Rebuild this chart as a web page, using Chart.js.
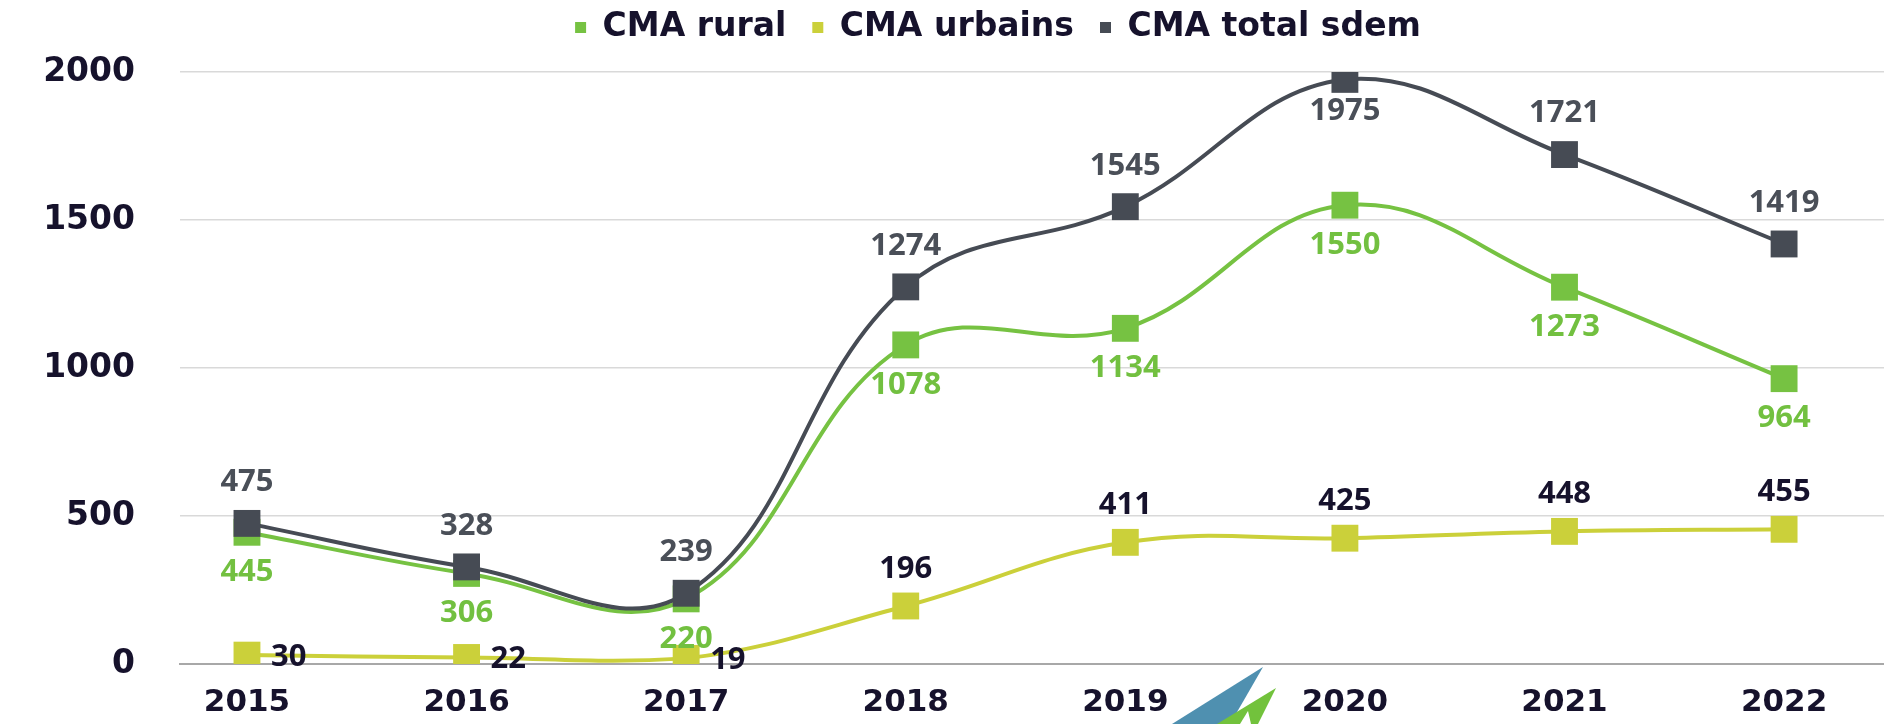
<!DOCTYPE html>
<html lang="fr">
<head>
<meta charset="utf-8">
<title>CMA – évolution 2015-2022</title>
<script src="https://cdn.jsdelivr.net/npm/chart.js@4.4.1/dist/chart.umd.min.js"></script>
<style>
  html, body { margin: 0; padding: 0; background: #ffffff; }
  #wrap { width: 1884px; height: 724px; position: relative; }
  canvas { display: block; }
</style>
</head>
<body>
<div id="wrap"><canvas id="chart" width="1884" height="724"></canvas></div>
<script>
// Années et valeurs par série
const years = ['2015', '2016', '2017', '2018', '2019', '2020', '2021', '2022'];
const cmaRural = [445, 306, 220, 1078, 1134, 1550, 1273, 964];
const cmaUrbains = [30, 22, 19, 196, 411, 425, 448, 455];
const cmaTotal = [475, 328, 239, 1274, 1545, 1975, 1721, 1419];
const yTicks = [0, 500, 1000, 1500, 2000];

const GREEN = '#76c242';
const YELLOW = '#cbd03a';
const GREY = '#464b54';
const NAVY = '#16122c';

const toPoints = (arr) => arr.map((v, i) => ({ x: i, y: v }));

// Étiquettes de valeur dessinées au-dessus des courbes
const valueLabels = {
  id: 'valueLabels',
  afterDatasetsDraw(chart) {
    const ctx = chart.ctx;
    ctx.save();
    ctx.font = '700 31px "Open Sans"';
    ctx.textBaseline = 'middle';
    chart.data.datasets.forEach((ds, di) => {
      const meta = chart.getDatasetMeta(di);
      meta.data.forEach((pt, i) => {
        const v = ds.data[i].y;
        let x = pt.x, y = pt.y, align = 'center';
        if (ds.labelMode === 'below') { y += 40; }
        else if (ds.labelMode === 'above') {
          // le point le plus haut garde son étiquette sous le marqueur
          y += (v === Math.max(...cmaTotal)) ? 32 : -41;
        }
        else if (ds.labelMode === 'urban') {
          if (i < 3) { x += 24; y += 2; align = 'left'; }
          else { y -= 37; }
        }
        ctx.fillStyle = ds.labelColor;
        ctx.textAlign = align;
        ctx.fillText(String(v), x, y);
      });
    });
    ctx.restore();
  }
};

// Légende décalée vers le haut et vers la droite
const legendShift = {
  id: 'legendShift',
  afterLayout(chart) {
    const lg = chart.legend;
    if (!lg) return;
    lg.left += 56; lg.right += 56;
    lg.top -= 18; lg.bottom -= 18;
  }
};

// Petit logo en bas du graphique
const logoMark = {
  id: 'logoMark',
  afterDraw(chart) {
    const ctx = chart.ctx;
    ctx.save();
    ctx.fillStyle = '#4f90b0';
    ctx.beginPath();
    ctx.moveTo(1263, 667);
    ctx.lineTo(1172, 724);
    ctx.lineTo(1230, 724);
    ctx.lineTo(1244, 700);
    ctx.closePath();
    ctx.fill();
    ctx.fillStyle = '#72c23c';
    ctx.beginPath();
    ctx.moveTo(1276, 688);
    ctx.lineTo(1217, 724);
    ctx.lineTo(1258, 724);
    ctx.closePath();
    ctx.fill();
    ctx.fillStyle = '#ffffff';
    ctx.beginPath();
    ctx.moveTo(1240, 724);
    ctx.lineTo(1248, 711);
    ctx.lineTo(1251, 724);
    ctx.closePath();
    ctx.fill();
    ctx.restore();
  }
};

const common = {
  borderWidth: 4,
  tension: 0.4,
  pointStyle: 'rect',
  pointRadius: 19,
  pointHoverRadius: 19,
  pointBorderWidth: 0,
  fill: false
};

new Chart(document.getElementById('chart'), {
  type: 'line',
  data: {
    datasets: [
      Object.assign({}, common, {
        label: 'CMA rural',
        data: toPoints(cmaRural),
        borderColor: GREEN,
        backgroundColor: GREEN,
        pointBackgroundColor: GREEN,
        labelColor: '#72c040',
        labelMode: 'below',
        order: 3
      }),
      Object.assign({}, common, {
        label: 'CMA urbains',
        data: toPoints(cmaUrbains),
        borderColor: YELLOW,
        backgroundColor: YELLOW,
        pointBackgroundColor: YELLOW,
        labelColor: NAVY,
        labelMode: 'urban',
        order: 2
      }),
      Object.assign({}, common, {
        label: 'CMA total sdem',
        data: toPoints(cmaTotal),
        borderColor: GREY,
        backgroundColor: GREY,
        pointBackgroundColor: GREY,
        labelColor: '#4a4f58',
        labelMode: 'above',
        order: 1
      })
    ]
  },
  plugins: [valueLabels, legendShift, logoMark],
  options: {
    responsive: false,
    animation: false,
    events: [],
    layout: { autoPadding: false, padding: { left: 0, top: 3, right: 0, bottom: 0 } },
    plugins: {
      tooltip: { enabled: false },
      legend: {
        position: 'top',
        align: 'center',
        labels: {
          color: NAVY,
          font: { family: '"DejaVu Sans"', size: 33, weight: 'bold' },
          boxWidth: 11,
          boxHeight: 11,
          padding: 26,
          sort: (a, b) => a.datasetIndex - b.datasetIndex,
          generateLabels: (chart) =>
            Chart.defaults.plugins.legend.labels.generateLabels(chart)
              .map(l => Object.assign(l, { lineWidth: 0 }))
        }
      }
    },
    scales: {
      x: {
        type: 'linear',
        min: -0.305,
        max: 7.455,
        afterFit: (s) => { s.height = 60; s.paddingLeft = 0; s.paddingRight = 0; },
        grid: { display: false },
        border: { display: true, color: '#a8a8a8', width: 2 },
        ticks: {
          stepSize: 1,
          includeBounds: false,
          autoSkip: false,
          maxRotation: 0,
          padding: 12,
          color: NAVY,
          font: { family: '"DejaVu Sans"', size: 31, weight: 'bold' },
          callback: (v) => Number.isInteger(v) && years[v] !== undefined ? years[v] : ''
        }
      },
      y: {
        min: yTicks[0],
        max: yTicks[yTicks.length - 1],
        afterFit: (s) => { s.width = 180; s.paddingTop = 0; s.paddingBottom = 0; },
        afterBuildTicks: (s) => { s.ticks = yTicks.map(v => ({ value: v })); },
        grid: {
          drawTicks: false,
          color: (c) => c.tick && c.tick.value === 0 ? '#a8a8a8' : '#d9d9d9',
          lineWidth: (c) => c.tick && c.tick.value === 0 ? 2 : 1.5
        },
        border: { display: false },
        ticks: {
          padding: 45,
          color: NAVY,
          font: { family: '"DejaVu Sans"', size: 33, weight: 'bold' },
          callback: (v) => String(v)
        }
      }
    }
  }
});
</script>
</body>
</html>
